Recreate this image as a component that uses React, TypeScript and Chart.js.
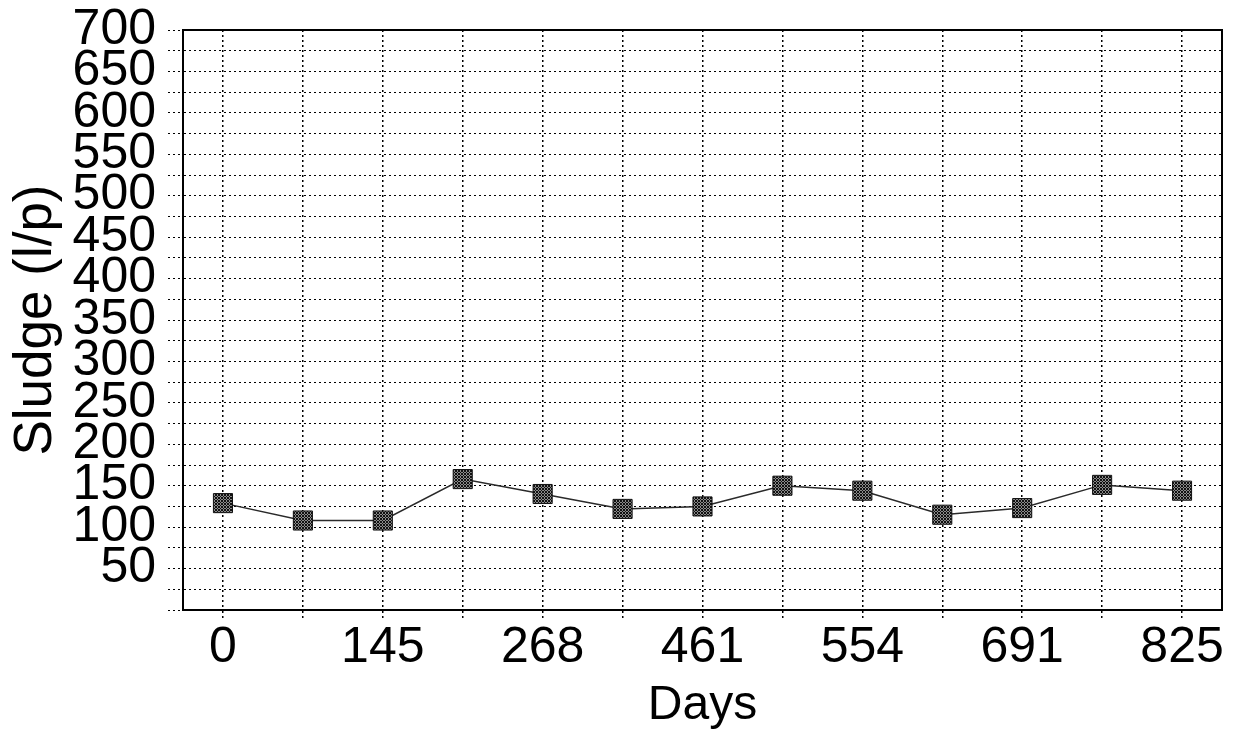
import React, { useEffect, useRef } from "react";
import { Chart, registerables } from "chart.js";

Chart.register(...registerables);

// Category tick labels (days); unlabeled intermediate sampling points are blank
const dayLabels: string[] = ["0", "", "145", "", "268", "", "461", "", "554", "", "691", "", "825"];
// Sludge accumulation (l/p)
const sludgeValues: number[] = [129, 108, 108, 158, 140, 122, 125, 150, 144, 115, 123, 151, 144];

const yMin = 0;
const yMax = 700;
const yGridStep = 25;
const yLabelStep = 50;

const FONT = "'Liberation Sans', Arial, Helvetica, sans-serif";

function makePattern(): CanvasPattern | string {
  const c = document.createElement("canvas");
  c.width = 3;
  c.height = 3;
  const g = c.getContext("2d");
  if (!g) return "#555";
  g.fillStyle = "#8a8a8a";
  g.fillRect(0, 0, 3, 3);
  g.fillStyle = "#111";
  g.fillRect(0, 0, 1, 1);
  g.fillRect(2, 0, 1, 1);
  g.fillRect(1, 1, 1, 1);
  g.fillRect(0, 2, 1, 1);
  g.fillRect(2, 2, 1, 1);
  const p = g.createPattern(c, "repeat");
  return p || "#555";
}

const framePlugin = {
  id: "frame",
  afterDraw(chart: any) {
    const { ctx, chartArea } = chart;
    ctx.save();
    ctx.strokeStyle = "#000";
    ctx.lineWidth = 2;
    ctx.setLineDash([]);
    ctx.strokeRect(chartArea.left, chartArea.top, chartArea.right - chartArea.left, chartArea.bottom - chartArea.top);
    ctx.restore();
  },
};

export default function App() {
  const ref = useRef<HTMLCanvasElement | null>(null);

  useEffect(() => {
    if (!ref.current) return;
    const pattern = makePattern();
    const chart = new Chart(ref.current, {
      type: "line",
      data: {
        labels: dayLabels,
        datasets: [
          {
            data: sludgeValues,
            borderColor: "#2a2a2a",
            borderWidth: 1.5,
            backgroundColor: pattern as any,
            pointStyle: "rect",
            pointRadius: 13.5,
            pointBorderColor: "#111",
            pointBorderWidth: 1,
            pointBackgroundColor: pattern as any,
            tension: 0,
          },
        ],
      },
      options: {
        responsive: false,
        animation: false,
        layout: { padding: { top: 30, right: 15, left: 0, bottom: 0 } },
        plugins: {
          legend: { display: false },
          tooltip: { enabled: false },
        },
        scales: {
          x: {
            type: "category",
            offset: true,
            grid: {
              offset: false,
              color: "#000",
              lineWidth: 1.5,
              tickLength: 8,
              tickColor: "#000",
              tickBorderDash: [2, 3],
            },
            border: { display: true, color: "#000", width: 2, dash: [2, 3] },
            ticks: {
              autoSkip: false,
              maxRotation: 0,
              color: "#000",
              padding: 0,
              font: { family: FONT, size: 50 },
            },
            title: {
              display: true,
              text: "Days",
              color: "#000",
              font: { family: FONT, size: 48, lineHeight: 1.0 },
              padding: { top: 0, bottom: 0 },
            },
            afterFit: (scale: any) => {
              scale.height = 120;
            },
          },
          y: {
            type: "linear",
            min: yMin,
            max: yMax,
            grid: {
              color: "#000",
              lineWidth: 1,
              tickLength: 15,
              tickColor: "#000",
              tickBorderDash: [2, 3],
            },
            border: { display: true, color: "#000", width: 2, dash: [2, 3] },
            ticks: {
              stepSize: yGridStep,
              autoSkip: false,
              color: "#000",
              padding: 12,
              font: { family: FONT, size: 50, lineHeight: 0.6 },
              callback: (v: any) => {
                const n = Number(v);
                return n !== 0 && n % yLabelStep === 0 ? String(n) : "";
              },
            },
            title: {
              display: true,
              text: "Sludge (l/p)",
              color: "#000",
              font: { family: FONT, size: 53, lineHeight: 1.2 },
              padding: { top: 5, bottom: 0 },
            },
            afterFit: (scale: any) => {
              scale.width = 183;
            },
          },
        },
      },
      plugins: [framePlugin],
    });
    return () => chart.destroy();
  }, []);

  return (
    <div style={{ position: "absolute", left: 0, top: 0, width: 1237, height: 730, background: "#fff" }}>
      <canvas ref={ref} width={1237} height={730} style={{ display: "block" }} />
    </div>
  );
}
